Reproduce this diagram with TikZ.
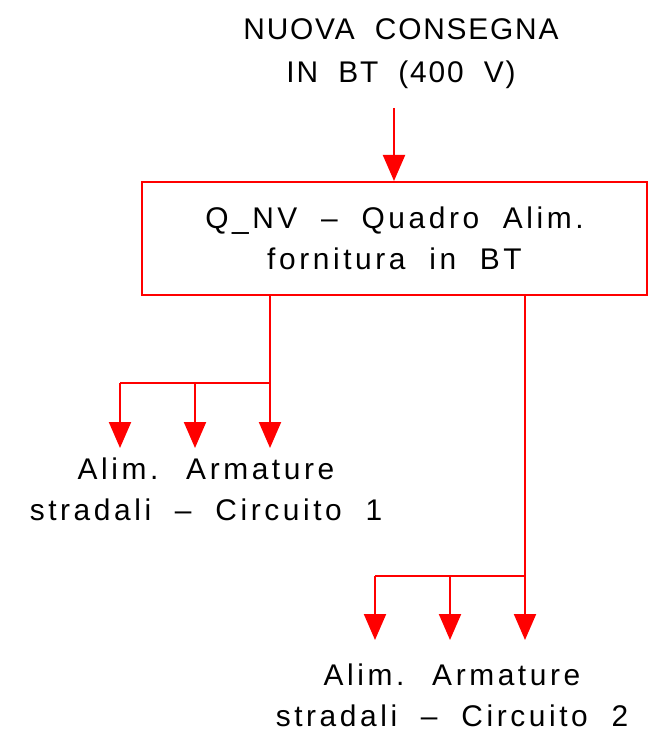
\documentclass[tikz,border=0pt]{standalone}
\usepackage{fontspec}
\setmainfont{Liberation Sans}[LetterSpace=12,WordSpace=2]
\usetikzlibrary{arrows.meta,positioning}
\begin{document}
\begin{tikzpicture}[x=1bp, y=-1bp]
    \tikzstyle{feed}=[red, line width=2bp]
    \tikzstyle{farr}=[feed, -{Triangle[width=22bp,length=26bp]}]
    \tikzstyle{lbl}=[align=center, inner sep=0pt, font=\fontsize{30}{41}\selectfont]
    \tikzstyle{ttl}=[lbl, font=\fontsize{30}{43}\selectfont\addfontfeatures{LetterSpace=6}]
    \tikzstyle{board}=[draw=red, line width=2bp, minimum width=505bp, minimum height=113bp, inner sep=0pt]

    \useasboundingbox (0,0) rectangle (648,734);

    % supply and main board
    \node[ttl] (supply) at (401,54) {NUOVA CONSEGNA\\IN BT (400 V)};
    \coordinate (feedin) at (394,108);
    \node[board, lbl] (qnv) at (394.5,238.5) {Q\_NV -- Quadro Alim.\\fornitura in BT};
    \draw[farr] (feedin) -- (qnv.north -| feedin);

    % circuit 1
    \coordinate (bus1) at (270,383);
    \foreach \x [count=\i] in {120,195,270} {
        \coordinate (tipa\i) at (\x,448);
    }
    \draw[feed] (qnv.south -| bus1) -- (bus1) -- (bus1 -| tipa1);
    \foreach \i in {1,2,3} {
        \draw[farr] (tipa\i |- bus1) -- (tipa\i);
    }
    \node[lbl] (circ1) at (206,489) {Alim. Armature\\stradali -- Circuito 1};

    % circuit 2
    \coordinate (bus2) at (525,576);
    \foreach \x [count=\i] in {375,450,525} {
        \coordinate (tipb\i) at (\x,640);
    }
    \draw[feed] (qnv.south -| bus2) -- (bus2) -- (bus2 -| tipb1);
    \foreach \i in {1,2,3} {
        \draw[farr] (tipb\i |- bus2) -- (tipb\i);
    }
    \node[lbl] (circ2) at (452,695) {Alim. Armature\\stradali -- Circuito 2};
\end{tikzpicture}
\end{document}
